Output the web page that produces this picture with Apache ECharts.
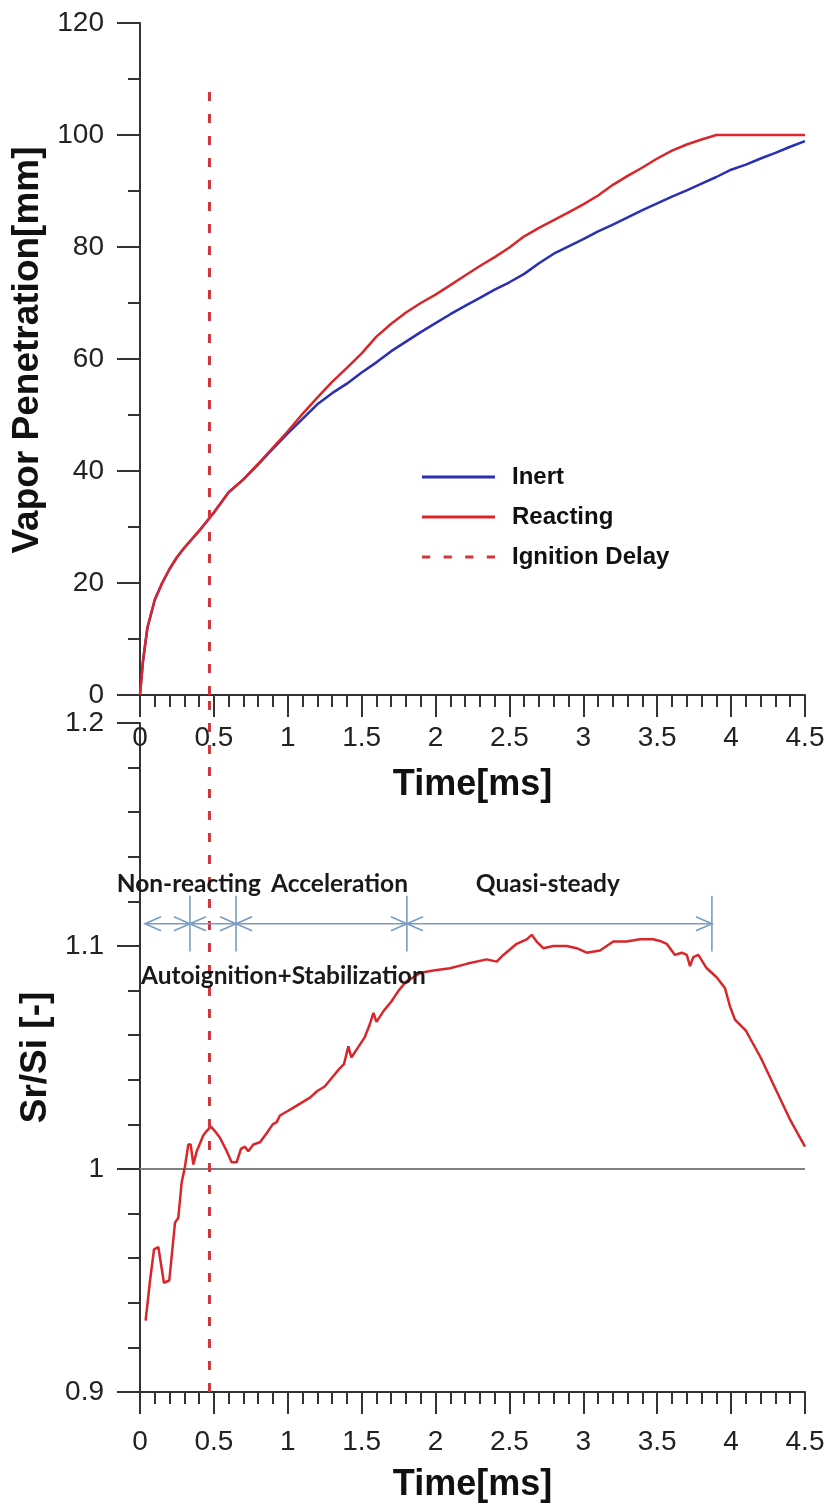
<!DOCTYPE html>
<html>
<head>
<meta charset="utf-8">
<script src="https://cdn.jsdelivr.net/npm/echarts@6/dist/echarts.min.js"></script>
<style>
  html, body { margin: 0; padding: 0; background: #fff; }
  #chart { width: 833px; height: 1504px; }
</style>
</head>
<body>
<div id="chart"></div>
<script>
// top panel: vapor penetration [mm] vs time [ms]
const timeTop = [0, 0.02, 0.05, 0.1, 0.15, 0.2, 0.25, 0.3, 0.4, 0.5, 0.6, 0.7, 0.8, 0.9, 1.0,
  1.1, 1.2, 1.3, 1.4, 1.5, 1.6, 1.7, 1.8, 1.9, 2.0, 2.1, 2.2, 2.3, 2.4, 2.5, 2.6, 2.7, 2.8,
  2.9, 3.0, 3.1, 3.2, 3.3, 3.4, 3.5, 3.6, 3.7, 3.8, 3.9, 4.0, 4.1, 4.2, 4.3, 4.4, 4.5]
const inertPen = [0, 6, 12, 17, 20, 22.5, 24.6, 26.3, 29.3, 32.6, 36.2, 38.5, 41.2, 44.0, 46.7,
  49.3, 51.9, 53.9, 55.6, 57.6, 59.4, 61.4, 63.1, 64.8, 66.4, 68.0, 69.5, 70.9, 72.4, 73.7, 75.2, 77.1, 78.8,
  80.1, 81.4, 82.8, 84.0, 85.3, 86.6, 87.8, 89.0, 90.1, 91.3, 92.5, 93.8, 94.7, 95.8, 96.8, 97.9, 98.9]
const reactPen = [0, 6, 12, 17, 20, 22.5, 24.6, 26.3, 29.3, 32.6, 36.2, 38.5, 41.3, 44.2, 47.1,
  50.2, 53.1, 55.9, 58.4, 61.0, 64.0, 66.3, 68.3, 70.0, 71.5, 73.2, 74.9, 76.6, 78.2, 79.9, 81.9, 83.4, 84.8,
  86.2, 87.6, 89.2, 91.1, 92.7, 94.2, 95.8, 97.2, 98.3, 99.2, 100, 100, 100, 100, 100, 100, 100]

const ignitionDelay = 0.47
const ignitionTop = 110

// bottom panel: Sr/Si ratio
const timeRatio = [0.038, 0.068, 0.095, 0.124, 0.162, 0.198, 0.237, 0.259, 0.282, 0.304, 0.327, 0.343,
  0.361, 0.384, 0.428, 0.451, 0.48, 0.507, 0.541, 0.587, 0.62, 0.654, 0.683, 0.71, 0.733, 0.767, 0.812,
  0.857, 0.898, 0.925, 0.947, 1.0, 1.05, 1.1, 1.15, 1.2, 1.25, 1.3, 1.35, 1.38, 1.41, 1.43, 1.47, 1.52,
  1.55, 1.58, 1.6, 1.65, 1.7, 1.75, 1.8, 1.85, 1.9, 1.985, 2.098, 2.211, 2.346, 2.414, 2.459, 2.549,
  2.617, 2.651, 2.684, 2.729, 2.797, 2.887, 2.955, 3.022, 3.113, 3.158, 3.203, 3.293, 3.383, 3.473,
  3.53, 3.564, 3.62, 3.666, 3.7, 3.722, 3.744, 3.778, 3.835, 3.902, 3.959, 3.992, 4.026, 4.1, 4.2,
  4.3, 4.4, 4.45, 4.5]
const ratio = [0.932, 0.950, 0.964, 0.965, 0.949, 0.950, 0.976, 0.978, 0.994, 1.001, 1.011, 1.011,
  1.002, 1.008, 1.015, 1.017, 1.019, 1.017, 1.014, 1.008, 1.003, 1.003, 1.009, 1.010, 1.008, 1.011, 1.012,
  1.016, 1.020, 1.021, 1.024, 1.026, 1.028, 1.030, 1.032, 1.035, 1.037, 1.041, 1.045, 1.047, 1.055, 1.050, 1.054, 1.059,
  1.064, 1.070, 1.066, 1.071, 1.075, 1.080, 1.084, 1.086, 1.088, 1.089, 1.090, 1.092, 1.094, 1.093, 1.096, 1.101,
  1.103, 1.105, 1.102, 1.099, 1.100, 1.100, 1.099, 1.097, 1.098, 1.100, 1.102, 1.102, 1.103, 1.103,
  1.102, 1.101, 1.096, 1.097, 1.096, 1.091, 1.095, 1.096, 1.090, 1.086, 1.081, 1.073, 1.067, 1.062, 1.050,
  1.036, 1.022, 1.016, 1.010]

// phase annotations
const phaseEdges = [0.034, 0.338, 0.65, 1.806, 3.87]
const arrowLevel = 1.11
const barHalf = 0.0125
const phaseNames = ['Non-reacting', 'Acceleration', 'Quasi-steady', 'Autoignition+Stabilization']
const phaseLabelX = [0.33, 1.35, 2.76, 0.97]
const phaseLabelY = [1.1277, 1.1277, 1.1277, 1.0866]

const RED = '#d9262b'
const BLUE = '#2a2fb3'
const DASH = '#d0343c'
const ARROW = '#7a9cc0'
const AXIS = '#333'
const FONT = 'Liberation Sans, Arial, sans-serif'

const SOLID_ICON = 'path://M0,0h71v3h-71z'
const DASH_ICON = 'path://M0,0h8v3h-8z M21,0h8v3h-8z M42,0h8v3h-8z M63,0h8v3h-8z'

const zip = (xs, ys) => xs.map((x, i) => [x, ys[i]])

function xAxisOpt(gridIndex, labelMargin, nameGap) {
  return {
    type: 'value', gridIndex, min: 0, max: 4.5, interval: 0.5,
    name: 'Time[ms]', nameLocation: 'middle', nameGap,
    nameTextStyle: { fontFamily: FONT, fontWeight: 'bold', fontSize: 36, color: '#111' },
    axisLine: { lineStyle: { color: AXIS, width: 2 } },
    axisTick: { length: 22, lineStyle: { color: AXIS, width: 2 } },
    minorTick: { show: true, splitNumber: 5, length: 12, lineStyle: { color: AXIS, width: 2 } },
    axisLabel: { margin: labelMargin, fontFamily: FONT, fontSize: 28, color: '#222' },
    splitLine: { show: false }
  }
}

function yAxisOpt(gridIndex, min, max, interval, minorSplit, name, namePad) {
  return {
    type: 'value', gridIndex, min, max, interval,
    name, nameLocation: 'middle', nameGap: 85,
    nameTextStyle: { fontFamily: FONT, fontWeight: 'bold', fontSize: 37, color: '#111', padding: namePad },
    axisLine: { show: true, onZero: false, lineStyle: { color: AXIS, width: 2 } },
    axisTick: { length: 23, lineStyle: { color: AXIS, width: 2 } },
    minorTick: { show: true, splitNumber: minorSplit, length: 12, lineStyle: { color: AXIS, width: 2 } },
    axisLabel: { margin: 36, fontFamily: FONT, fontSize: 28, color: '#222' },
    splitLine: { show: false }
  }
}

function renderPhase(params, api) {
  const i = params.dataIndex
  const a = api.coord([phaseEdges[i], arrowLevel])
  const b = api.coord([phaseEdges[i + 1], arrowLevel])
  const top = api.coord([phaseEdges[i + 1], arrowLevel + barHalf])
  const bot = api.coord([phaseEdges[i + 1], arrowLevel - barHalf])
  const style = { stroke: ARROW, lineWidth: 1.6, fill: null }
  const h = 16, w = 7
  return {
    type: 'group',
    children: [
      { type: 'line', shape: { x1: a[0], y1: a[1], x2: b[0], y2: b[1] }, style },
      { type: 'polyline', shape: { points: [[a[0] + h, a[1] - w], [a[0], a[1]], [a[0] + h, a[1] + w]] }, style },
      { type: 'polyline', shape: { points: [[b[0] - h, b[1] - w], [b[0], b[1]], [b[0] - h, b[1] + w]] }, style },
      { type: 'line', shape: { x1: top[0], y1: top[1], x2: bot[0], y2: bot[1] }, style }
    ]
  }
}

function renderPhaseLabel(params, api) {
  const i = params.dataIndex
  const p = api.coord([phaseLabelX[i], phaseLabelY[i]])
  return {
    type: 'text', x: p[0], y: p[1],
    style: {
      text: phaseNames[i], fill: '#1a1a1a', fontFamily: 'Lato, sans-serif', fontWeight: 'bold',
      fontSize: 24.5, align: 'center', verticalAlign: 'middle'
    }
  }
}

const chart = echarts.init(document.getElementById('chart'))

chart.setOption({
  animation: false,
  backgroundColor: '#fff',
  grid: [
    { left: 140, right: 28, top: 23, height: 672 },
    { left: 140, right: 28, top: 723, height: 670 }
  ],
  legend: {
    data: [
      { name: 'Inert', icon: SOLID_ICON },
      { name: 'Reacting', icon: SOLID_ICON },
      { name: 'Ignition Delay', icon: DASH_ICON }
    ],
    orient: 'vertical', left: 417, top: 460,
    itemWidth: 73, itemHeight: 3, itemGap: 16, symbolKeepAspect: false,
    textStyle: { fontFamily: FONT, fontWeight: 'bold', fontSize: 24, color: '#111', padding: [0, 0, 0, 12], lineHeight: 24 }
  },
  xAxis: [xAxisOpt(0, 29, 72), xAxisOpt(1, 36, 75)],
  yAxis: [
    yAxisOpt(0, 0, 120, 20, 2, 'Vapor Penetration[mm]', [0, 0, 0, 18]),
    yAxisOpt(1, 0.9, 1.2, 0.1, 5, 'Sr/Si [-]', 0)
  ],
  series: [
    {
      name: 'Inert', type: 'line', xAxisIndex: 0, yAxisIndex: 0, showSymbol: false, symbol: 'none',
      data: zip(timeTop, inertPen), lineStyle: { color: BLUE, width: 2.5 }, itemStyle: { color: BLUE }
    },
    {
      name: 'Reacting', type: 'line', xAxisIndex: 0, yAxisIndex: 0, showSymbol: false, symbol: 'none',
      data: zip(timeTop, reactPen), lineStyle: { color: RED, width: 2.5 }, itemStyle: { color: RED }, z: 3
    },
    {
      name: 'Ignition Delay', type: 'line', xAxisIndex: 0, yAxisIndex: 0, showSymbol: false, symbol: 'none',
      data: [[ignitionDelay, 0], [ignitionDelay, ignitionTop]],
      lineStyle: { color: DASH, width: 3, type: [9, 13] }, itemStyle: { color: DASH }, z: 4
    },
    {
      name: 'baseline', type: 'line', xAxisIndex: 1, yAxisIndex: 1, showSymbol: false, symbol: 'none',
      data: [[0, 1], [4.5, 1]], lineStyle: { color: '#808080', width: 2 }
    },
    {
      name: 'Sr/Si', type: 'line', xAxisIndex: 1, yAxisIndex: 1, showSymbol: false, symbol: 'none',
      data: zip(timeRatio, ratio), lineStyle: { color: RED, width: 2.5 }, z: 3
    },
    {
      name: 'delay2', type: 'line', xAxisIndex: 1, yAxisIndex: 1, showSymbol: false, symbol: 'none', clip: false,
      data: [[ignitionDelay, 0.9], [ignitionDelay, 1.2125]],
      lineStyle: { color: DASH, width: 3, type: [9, 13] }, z: 4
    },
    {
      name: 'phases', type: 'custom', xAxisIndex: 1, yAxisIndex: 1, clip: false,
      data: phaseEdges.slice(1).map((x, i) => [phaseEdges[i], x]),
      renderItem: renderPhase, z: 5
    },
    {
      name: 'phaseLabels', type: 'custom', xAxisIndex: 1, yAxisIndex: 1, clip: false,
      data: zip(phaseLabelX, phaseLabelY),
      renderItem: renderPhaseLabel, z: 6
    }
  ]
})
</script>
</body>
</html>
